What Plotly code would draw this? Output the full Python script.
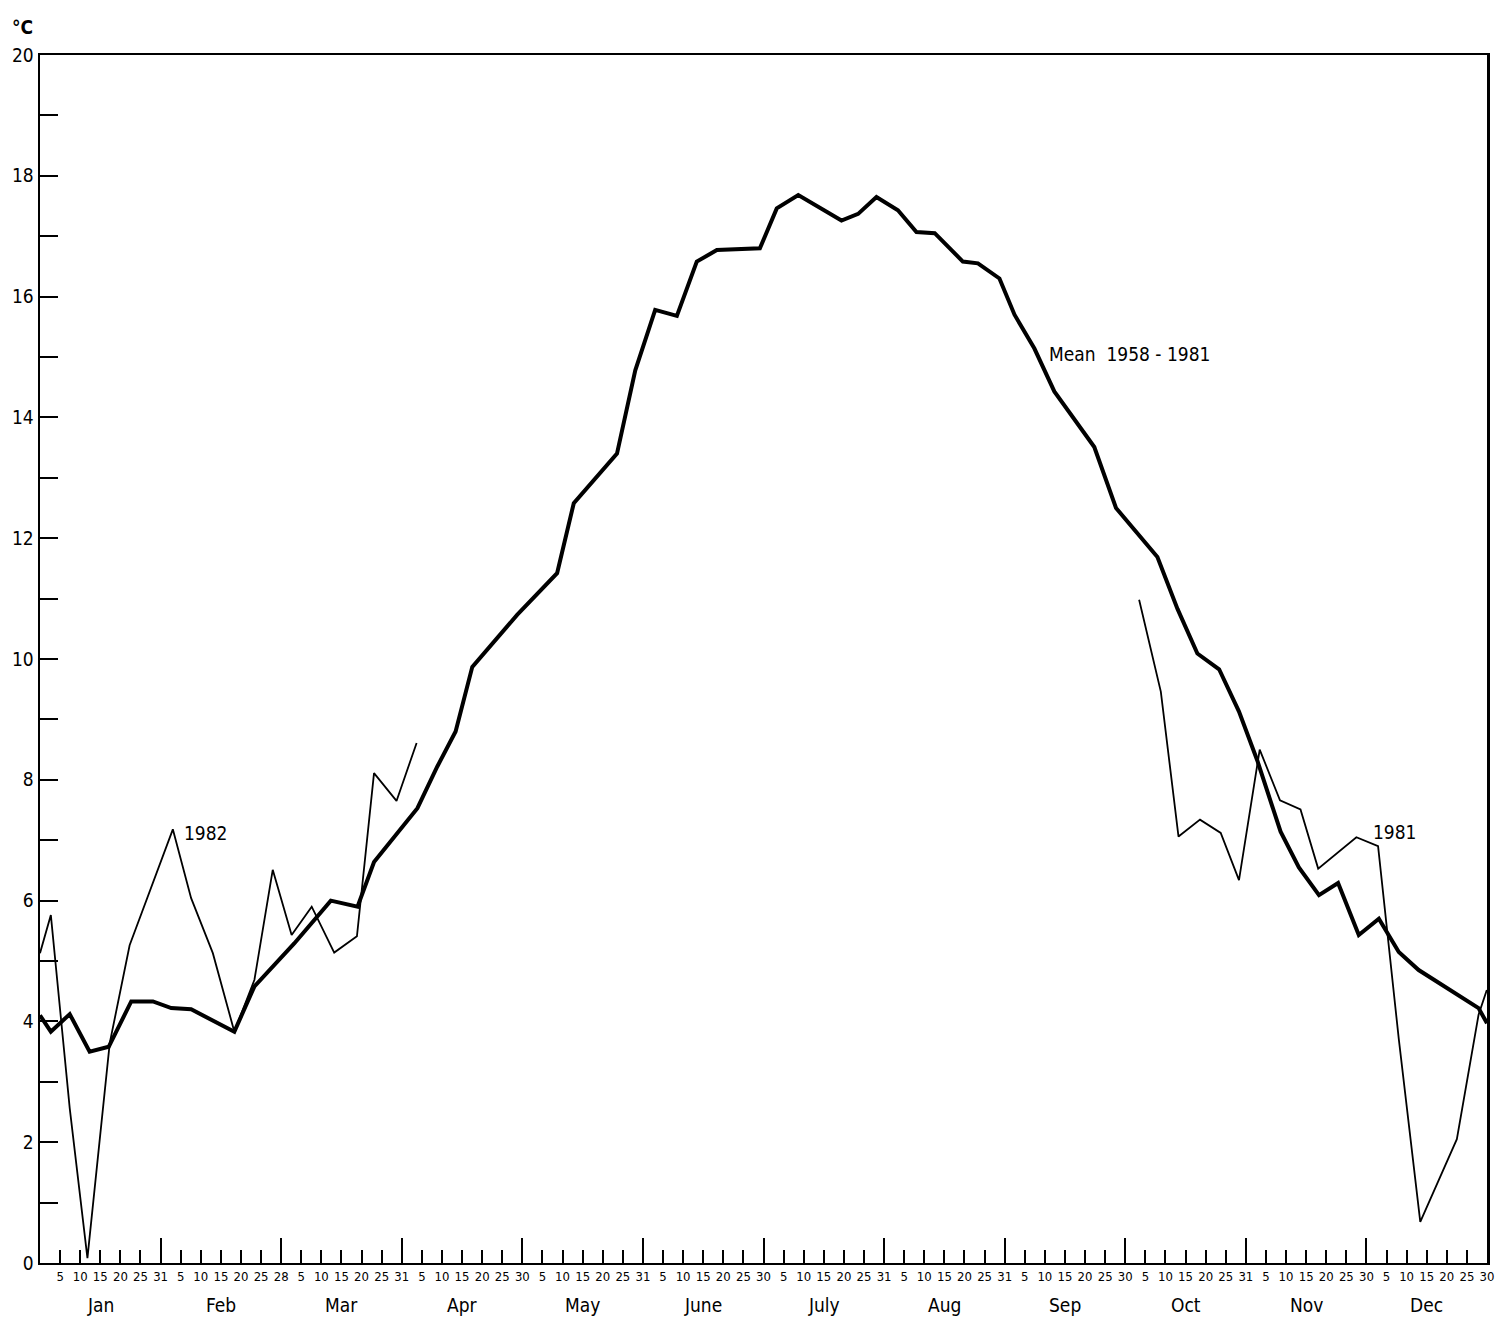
import plotly.graph_objects as go

# ---------------- data ----------------
months = ["Jan", "Feb", "Mar", "Apr", "May", "June", "July", "Aug", "Sep", "Oct", "Nov", "Dec"]
month_end_days = [31, 28, 31, 30, 31, 30, 31, 31, 30, 31, 30, 30]
pentad_days = [5, 10, 15, 20, 25]

# x positions in "pentad segment" units: every month is split in 6 equal
# segments (1-5, 6-10, 11-15, 16-20, 21-25, 26-end); month m spans [6m, 6m+6]
mean_x = [0, 0.54, 1.48, 2.47, 3.42, 4.54, 5.62, 6.53, 7.52, 9.67, 10.67, 12.65,
          14.47, 15.80, 16.62, 17.79, 18.78, 19.77, 20.68, 21.51, 22.92, 23.74,
          25.73, 26.56, 28.71, 29.62, 30.61, 31.69, 32.68, 33.68, 35.82, 36.66,
          37.73, 39.88, 40.71, 41.62, 42.69, 43.61, 44.52, 45.92, 46.67, 47.74,
          48.49, 49.48, 50.47, 52.46, 53.54, 55.60, 56.60, 57.59, 58.67, 59.66,
          60.57, 61.73, 62.64, 63.64, 64.59, 65.62, 66.62, 67.61, 68.60, 71.58, 72.0]
mean_y = [4.10, 3.83, 4.12, 3.50, 3.58, 4.33, 4.33, 4.22, 4.20, 3.83, 4.58, 5.29,
          6.00, 5.90, 6.64, 7.11, 7.53, 8.22, 8.80, 9.87, 10.40, 10.73,
          11.42, 12.58, 13.40, 14.78, 15.78, 15.68, 16.58, 16.77, 16.80, 17.46,
          17.68, 17.26, 17.37, 17.65, 17.43, 17.07, 17.05, 16.58, 16.55, 16.30,
          15.70, 15.14, 14.43, 13.51, 12.50, 11.69, 10.83, 10.09, 9.83, 9.13,
          8.32, 7.14, 6.55, 6.09, 6.29, 5.43, 5.70, 5.15, 4.85, 4.22, 3.97]

y1982_x = [0, 0.54, 1.48, 2.36, 3.47, 4.46, 6.61, 7.52, 8.60, 9.67, 10.67, 11.58,
           12.52, 13.52, 14.64, 15.77, 16.62, 17.74, 18.74]
y1982_y = [5.13, 5.76, 2.56, 0.08, 3.64, 5.26, 7.18, 6.04, 5.13, 3.83, 4.69, 6.51,
           5.43, 5.90, 5.14, 5.41, 8.11, 7.65, 8.61]

y1981_x = [54.69, 55.77, 56.65, 57.72, 58.75, 59.66, 60.69, 61.70, 62.72, 63.60,
           65.50, 66.58, 67.61, 68.68, 70.50, 71.58, 71.99]
y1981_y = [10.98, 9.46, 7.06, 7.34, 7.12, 6.34, 8.50, 7.66, 7.51, 6.53,
           7.05, 6.90, 3.71, 0.68, 2.05, 4.11, 4.52]

# ---------------- axis tick definitions ----------------
tick_vals, tick_text = [], []
for m, end in enumerate(month_end_days):
    for k, d in enumerate(pentad_days + [end]):
        tick_vals.append(6 * m + k + 1)
        tick_text.append(str(d))
month_end_vals = [6 * (m + 1) for m in range(len(months))]
month_mid_vals = [6 * m + 3 for m in range(len(months))]

y_vals = list(range(0, 21))
y_text = [str(v) if v % 2 == 0 else "" for v in y_vals]

FONT = "DejaVu Sans Condensed, DejaVu Sans, sans-serif"

fig = go.Figure()
fig.add_trace(go.Scatter(x=y1982_x, y=y1982_y, mode="lines",
                         line=dict(color="black", width=1.8), hoverinfo="skip"))
fig.add_trace(go.Scatter(x=y1981_x, y=y1981_y, mode="lines",
                         line=dict(color="black", width=1.8), hoverinfo="skip"))
fig.add_trace(go.Scatter(x=mean_x, y=mean_y, mode="lines",
                         line=dict(color="black", width=4), hoverinfo="skip"))
# invisible trace on overlay axis so it is rendered
fig.add_trace(go.Scatter(x=[0], y=[0], xaxis="x2", mode="markers",
                         marker=dict(opacity=0), hoverinfo="skip"))

fig.update_layout(
    width=1506, height=1327, autosize=False,
    margin=dict(l=39, r=17, t=55, b=64),
    paper_bgcolor="white", plot_bgcolor="white",
    showlegend=False,
    font=dict(family=FONT, color="black"),
    xaxis=dict(
        range=[0, 72], showgrid=False, zeroline=False,
        showline=True, linecolor="black", linewidth=2, mirror=True,
        tickmode="array", tickvals=tick_vals, ticktext=tick_text,
        ticks="inside", ticklen=13, tickwidth=2, tickcolor="black",
        tickangle=0, tickfont=dict(size=13, family=FONT, color="black"),
    ),
    xaxis2=dict(
        range=[0, 72], overlaying="x", anchor="y", side="bottom",
        showgrid=False, zeroline=False, showline=False,
        tickmode="array", tickvals=month_end_vals,
        ticks="inside", ticklen=25, tickwidth=2, tickcolor="black",
        showticklabels=False,
    ),
    yaxis=dict(
        range=[0, 20], showgrid=False, zeroline=False,
        showline=True, linecolor="black", linewidth=2.5, mirror=True,
        tickmode="array", tickvals=y_vals, ticktext=y_text,
        ticks="inside", ticklen=18, tickwidth=2, tickcolor="black",
        tickfont=dict(size=19, family=FONT, color="black"),
    ),
)

annotations = []
for name, xm in zip(months, month_mid_vals):
    annotations.append(dict(x=xm, y=-0.035, xref="x", yref="paper", text=name,
                            showarrow=False, xanchor="center", yanchor="middle",
                            font=dict(size=19, family=FONT, color="black")))
annotations += [
    dict(x=7.08, y=7.12, xref="x", yref="y", text="1982", showarrow=False,
         xanchor="left", yanchor="middle", font=dict(size=19, family=FONT)),
    dict(x=50.13, y=15.05, xref="x", yref="y", text="Mean&nbsp;&nbsp;1958 - 1981",
         showarrow=False, xanchor="left", yanchor="middle", font=dict(size=19, family=FONT)),
    dict(x=66.21, y=7.14, xref="x", yref="y", text="1981", showarrow=False,
         xanchor="left", yanchor="middle", font=dict(size=19, family=FONT)),
    dict(x=-0.012, y=1.023, xref="paper", yref="paper", text="<b>°C</b>", showarrow=False,
         xanchor="center", yanchor="middle", font=dict(size=19, family=FONT)),
]
fig.update_layout(annotations=annotations)

# remove the browser's default 8px body margin and any scrollbars
post = ("document.body.style.margin='0';"
        "document.body.style.overflow='hidden';"
        "document.documentElement.style.overflow='hidden';")
fig.write_html("out.html", post_script=post,
               config={"displayModeBar": False, "staticPlot": True})
